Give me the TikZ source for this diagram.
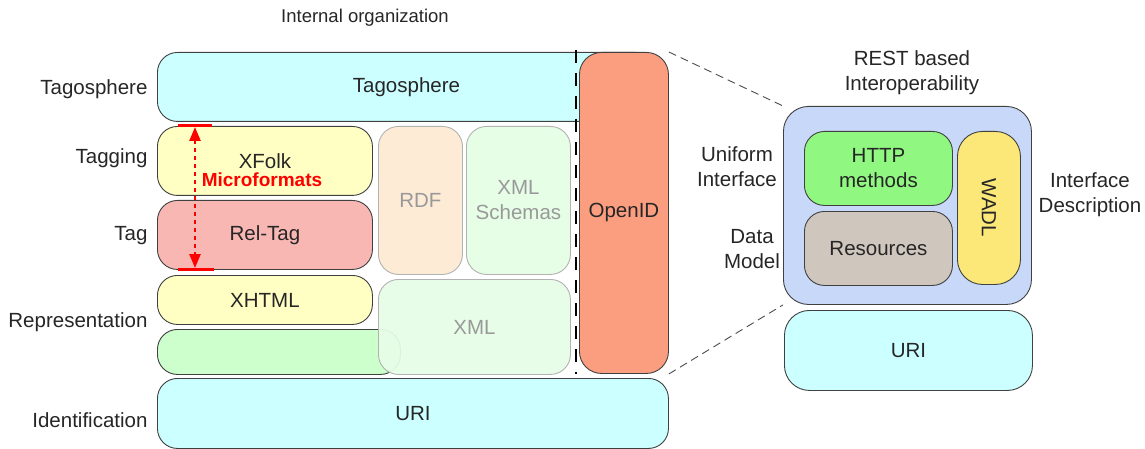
\documentclass[tikz,border=0pt]{standalone}
\usepackage{fontspec}
\setmainfont{Liberation Sans}
\usetikzlibrary{arrows.meta}
\definecolor{cyanbloc}{HTML}{CCFFFF}
\definecolor{jaune}{HTML}{FFFFC4}
\definecolor{rose}{HTML}{F9B7B3}
\definecolor{peche}{HTML}{FDEBD6}
\definecolor{vertpale}{HTML}{E6FDE6}
\definecolor{vert}{HTML}{CCFFCC}
\definecolor{saumon}{HTML}{FB9E7F}
\definecolor{bleu}{HTML}{C8D8F8}
\definecolor{vertvif}{HTML}{90F880}
\definecolor{taupe}{HTML}{CFC6BE}
\definecolor{ocre}{HTML}{FBE878}
\begin{document}
\begin{tikzpicture}[x=1pt,y=-1pt,font=\fontsize{20.5}{25}\selectfont]
\tikzstyle{bloc}=[draw=black!75, line width=0.9pt, rounded corners=20pt, inner sep=0pt, anchor=north west, align=center, text=black!85]
\tikzstyle{pale}=[bloc, draw=black!30, text=black!40]
\tikzstyle{couche}=[anchor=east, align=right, text=black!85]
\tikzstyle{legende}=[align=center, text=black!85]
\useasboundingbox (0,0) rectangle (1145,449);
\node[legende, font=\fontsize{18.5}{24}\selectfont] (titre) at (365,18) {Internal organization};
\node[couche] (lTago) at (151,89) {Tagosphere};
\node[couche] (lTagging) at (151,158) {Tagging};
\node[couche] (lTag) at (151,236) {Tag};
\node[couche] (lRep) at (151,322) {Representation};
\node[couche] (lId) at (151,420) {Identification};
\node[bloc, fill=cyanbloc, minimum width=498pt, minimum height=69pt] (tago) at (157,52) {Tagosphere};
\node[bloc, fill=jaune, minimum width=215pt, minimum height=69pt] (xfolk) at (157,126) {XFolk};
\node[bloc, fill=rose, minimum width=215pt, minimum height=69pt] (reltag) at (157,200) {Rel-Tag};
\node[pale, fill=peche, minimum width=84pt, minimum height=148pt] (rdf) at (378,126) {RDF};
\node[pale, fill=vertpale, minimum width=104pt, minimum height=148pt] (schemas) at (466,126) {XML\\Schemas};
\node[bloc, fill=jaune, minimum width=215pt, minimum height=49pt] (xhtml) at (157,275) {XHTML};
\node[bloc, fill=vert, minimum width=243pt, minimum height=45pt] (repr) at (157,329) {};
\node[pale, fill=vertpale, fill opacity=0.94, text opacity=1, minimum width=192pt, minimum height=95pt] (xml) at (378,279) {XML};
\node[bloc, fill=cyanbloc, minimum width=511pt, minimum height=70pt] (uri) at (157,378) {URI};
\coordinate (sepHaut) at (576,50);
\coordinate (sepBas) at (576,374);
\draw[line width=2.6pt, dash pattern=on 13pt off 10pt] (sepHaut) -- (sepBas);
\node[bloc, fill=saumon, minimum width=89pt, minimum height=321pt, rounded corners=22pt] (openid) at (579,52) {OpenID};
\coordinate (mHautG) at (178,126);
\coordinate (mHautD) at (212,126);
\coordinate (mBasG) at (178,269);
\coordinate (mBasD) at (214,269);
\coordinate (mHaut) at (195,127);
\coordinate (mBas) at (195,268);
\draw[red, line width=3pt] (mHautG) -- (mHautD);
\draw[red, line width=3pt] (mBasG) -- (mBasD);
\draw[red, line width=2.4pt, dash pattern=on 4pt off 4pt, {Triangle[width=11pt,length=14pt]}-{Triangle[width=11pt,length=14pt]}] (mHaut) -- (mBas);
\node[red, font=\fontsize{19}{24}\selectfont\bfseries] (micro) at (262,180) {Microformats};
\node[legende] (titreRest) at (912,73) {REST based\\Interoperability};
\node[bloc, fill=bleu, minimum width=248pt, minimum height=198pt, rounded corners=25pt] (rest) at (783,106) {};
\node[bloc, fill=vertvif, minimum width=148pt, minimum height=74pt] (http) at (804,131) {HTTP\\methods};
\node[bloc, fill=taupe, minimum width=148pt, minimum height=74pt] (ressources) at (804,211) {Resources};
\node[bloc, fill=ocre, minimum width=63pt, minimum height=153pt, rounded corners=25pt] (wadl) at (957,131) {};
\node[rotate=-90, text=black!85] (wadlTexte) at (wadl.center) {WADL};
\node[bloc, fill=cyanbloc, minimum width=248pt, minimum height=80pt, rounded corners=25pt] (uriRest) at (784,310) {URI};
\node[legende] (lUniforme) at (737,167) {Uniform\\Interface};
\node[legende] (lModele) at (752,249) {Data\\Model};
\node[legende] (lDescr) at (1090,195) {Interface\\Description};
\draw[black!70, line width=0.9pt, dash pattern=on 8pt off 5pt] (openid.north east) -- (rest.north west);
\draw[black!70, line width=0.9pt, dash pattern=on 8pt off 5pt] (openid.south east) -- (rest.south west);
\end{tikzpicture}
\end{document}
